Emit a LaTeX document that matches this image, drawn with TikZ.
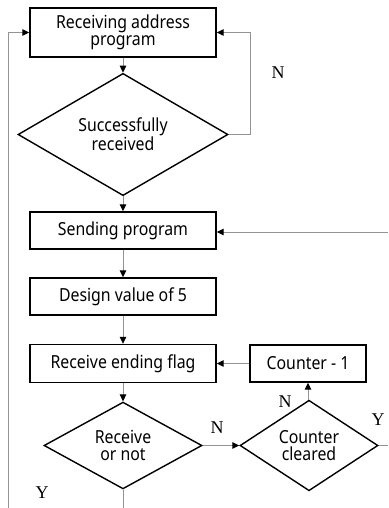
\documentclass[tikz,border=0pt]{standalone}
\usepackage{fontspec}
\setmainfont{Noto Sans}[FakeStretch=0.88]
\newfontfamily\lblfont{Liberation Serif}
\usetikzlibrary{shapes.geometric,arrows.meta}
\begin{document}
\begin{tikzpicture}[x=1pt,y=-1pt,
  box/.style={draw=black,line width=1.4pt,rectangle,inner sep=0pt,align=center,font=\fontsize{18}{17}\selectfont,minimum width=186pt},
  dia/.style={draw=black,line width=1.4pt,diamond,inner sep=0pt,align=center,font=\fontsize{18}{17}\selectfont},
  conn/.style={draw=gray!85,line width=1pt},
  arr/.style={conn,-{Triangle[length=7pt,width=6.5pt,fill=black,color=black]}},
  lbl/.style={font=\lblfont\fontsize{18}{18}\selectfont,inner sep=0pt}]
\useasboundingbox (0,0) rectangle (388,508);
\node[box,minimum height=49pt] (top) at (123,32.5) {Receiving address\\program};
\node[dia,minimum width=210pt,minimum height=97pt] (d1) at (123,134.5) {Successfully\\received};
\node[box,minimum height=37pt] (send) at (123,230.5) {Sending program};
\node[box,minimum height=37pt] (design) at (123,296.5) {Design value of 5};
\node[box,minimum height=38pt] (recv) at (123,363.5) {Receive ending flag};
\node[box,minimum width=116pt,minimum height=37pt] (cnt) at (308,363.5) {Counter - 1};
\node[dia,minimum width=158pt,minimum height=75pt] (d2) at (123,445.5) {Receive\\or not};
\node[dia,minimum width=138pt,minimum height=75pt] (d3) at (309,445.5) {Counter\\cleared};
\coordinate (bl) at (8,508);
\coordinate (bm) at (123,508);
\coordinate (rs) at (388,232);
\coordinate (rd) at (388,445.5);
\node[lbl] (n1) at (278,73) {N};
\node[lbl] (n2) at (217,428) {N};
\node[lbl] (n3) at (285,402) {N};
\node[lbl] (y1) at (378,420) {Y};
\node[lbl] (y2) at (42,493) {Y};
\draw[arr] (top) -- (d1);
\draw[arr] (d1.east) -- (250,134.5) |- (top.east);
\draw[arr] (d1) -- (send);
\draw[arr] (send) -- (design);
\draw[arr] (design) -- (recv);
\draw[arr] (recv) -- (d2);
\draw[arr] (d2) -- (d3);
\draw[arr] (d3.north -| cnt) -- (cnt);
\draw[arr] (cnt) -- (recv);
\draw[conn] (d3.east) -- (rd);
\draw[arr] (rs) -- (send.east |- rs);
\draw[conn] (d2) -- (bm);
\draw[arr] (bl) |- (top.west);
\end{tikzpicture}
\end{document}
